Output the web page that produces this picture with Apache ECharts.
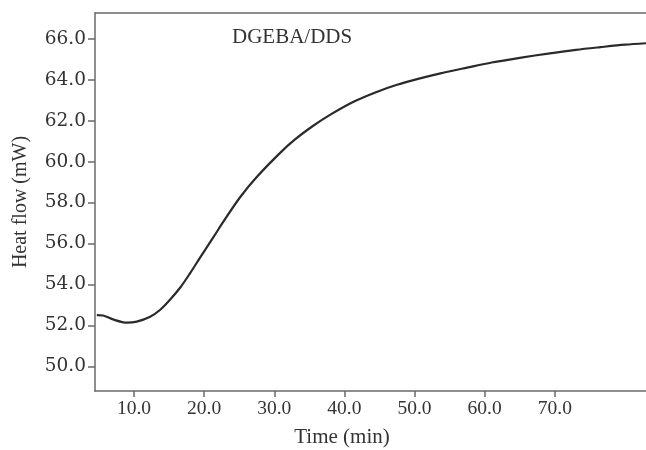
<!DOCTYPE html>
<html lang="en">
<head>
  <meta charset="UTF-8">
  <title>DGEBA/DDS Heat Flow</title>
  <script src="https://cdn.jsdelivr.net/npm/echarts/dist/echarts.min.js"></script>
  <style>
    html, body { margin: 0; padding: 0; background: #fff; }
    #chart { width: 646px; height: 450px; }
  </style>
</head>
<body>
<div id="chart"></div>
<script>
    // values
    const timeMin = [4.7, 5.6, 7.0, 9.0, 10.4, 12.3, 13.7, 15.1, 16.6, 18.0, 19.4, 21.3, 23.0, 25.1, 27.5,
        30.8, 33.0, 35.4, 38.0, 41.3, 44.5, 47.5, 50.5, 53.7, 57.5, 61.0, 65.0, 69.3, 73.0, 76.5, 80.0, 83.0];
    const heatFlow = [52.50, 52.48, 52.29, 52.13, 52.18, 52.42, 52.75, 53.24, 53.85, 54.55, 55.3, 56.3, 57.2, 58.25, 59.25,
        60.42, 61.1, 61.72, 62.3, 62.93, 63.4, 63.76, 64.05, 64.32, 64.6, 64.85, 65.08, 65.3, 65.47, 65.6, 65.72, 65.79];
    const xTicks = [10, 20, 30, 40, 50, 60, 70];
    const yTicks = [50, 52, 54, 56, 58, 60, 62, 64, 66];
    const curveLabel = 'DGEBA/DDS';
    const xName = 'Time (min)';
    const yName = 'Heat flow (mW)';

    const points = timeMin.map((t, i) => [t, heatFlow[i]]);
    const serif = 'Liberation Serif';
    const lineColor = '#6a6a6a';

    const chart = echarts.init(document.getElementById('chart'));
    chart.setOption({
        animation: false,
        title: {
            text: curveLabel,
            left: 227,
            top: 22,
            textStyle: { fontFamily: serif, fontSize: 21, fontWeight: 'normal', color: '#333' }
        },
        grid: { left: 95, right: 0, top: 13, bottom: 59, outerBoundsMode: 'none' },
        xAxis: [{
            type: 'value',
            min: 4.44,
            max: 83,
            name: xName,
            nameLocation: 'middle',
            nameGap: 36,
            nameTextStyle: { fontFamily: serif, fontSize: 21, color: '#333', padding: [0, 57, 0, 0] },
            axisLine: { lineStyle: { color: lineColor, width: 1.5 } },
            axisTick: { length: 6, customValues: xTicks, lineStyle: { color: lineColor, width: 1.5 } },
            axisLabel: {
                margin: 8, fontFamily: serif, fontSize: 19.5, color: '#333',
                customValues: xTicks,
                formatter: v => v.toFixed(1)
            },
            splitLine: { show: false }
        }, {
            type: 'value',
            position: 'top',
            min: 4.44,
            max: 83,
            axisLine: { show: true, lineStyle: { color: lineColor, width: 1.5 } },
            axisTick: { show: false },
            axisLabel: { show: false },
            splitLine: { show: false }
        }],
        yAxis: {
            type: 'value',
            min: 48.79,
            max: 67.27,
            name: yName,
            nameLocation: 'middle',
            nameGap: 64,
            nameTextStyle: { fontFamily: serif, fontSize: 20, color: '#333' },
            axisLine: { show: true, lineStyle: { color: lineColor, width: 1.5 } },
            axisTick: { show: true, length: 7, customValues: yTicks, lineStyle: { color: lineColor, width: 1.5 } },
            axisLabel: {
                margin: 9, fontFamily: 'DejaVu Serif', fontSize: 18.5, color: '#333',
                customValues: yTicks,
                formatter: v => v.toFixed(1)
            },
            splitLine: { show: false }
        },
        series: [{
            type: 'line',
            data: points,
            smooth: 0.3,
            showSymbol: false,
            lineStyle: { color: '#2a2a2a', width: 2.2 }
        }]
    });
</script>
</body>
</html>
